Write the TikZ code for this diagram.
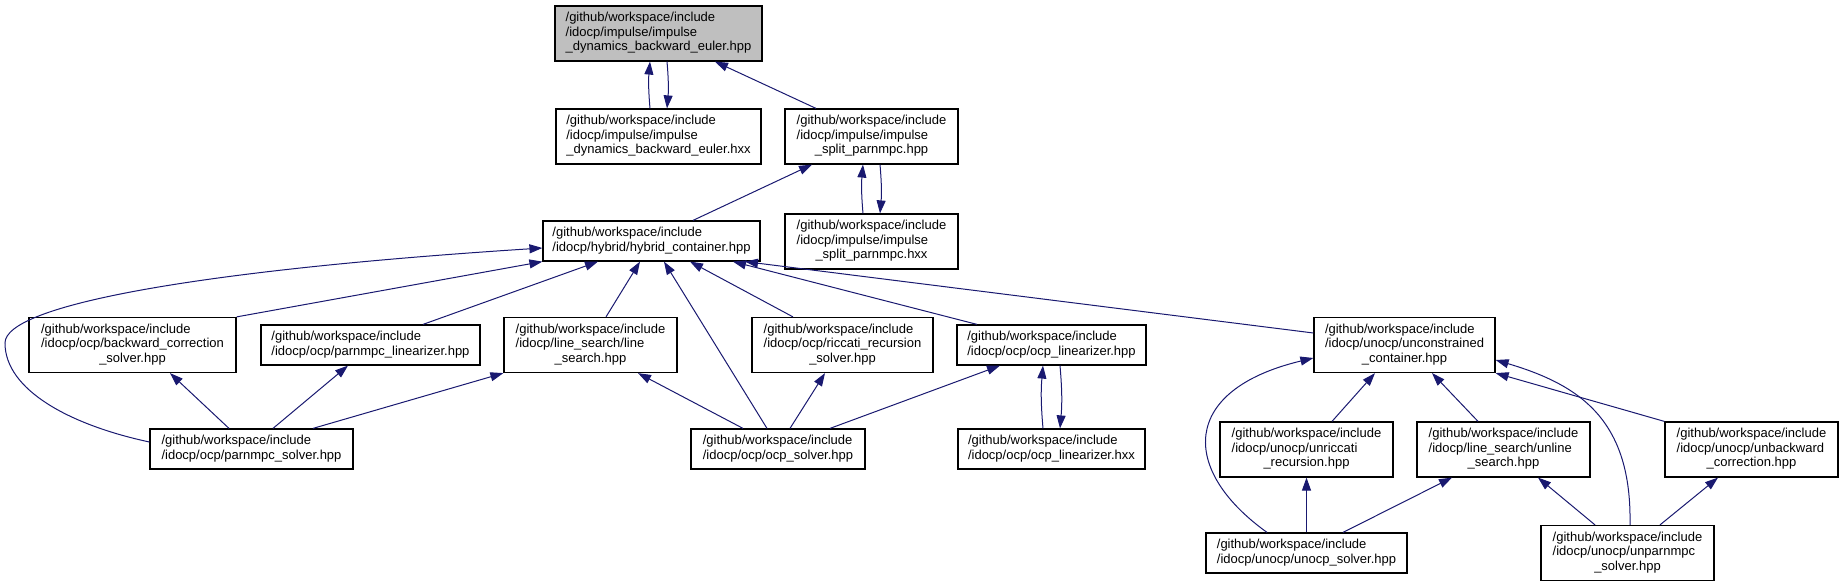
\documentclass[tikz,border=0pt]{standalone}
\usepackage{fontspec}
\setmainfont{Liberation Sans}
\usepackage{tikz}
\usetikzlibrary{arrows.meta}
\definecolor{edgeblue}{RGB}{25,25,112}
\definecolor{focusgray}{RGB}{191,191,191}
\newcommand{\twoline}[1]{\begin{tabular}{@{}l@{}}/github/workspace/include\\#1\end{tabular}}
\newcommand{\threeline}[2]{\begin{tabular}{@{}l@{}}/github/workspace/include\\#1\\\multicolumn{1}{@{}c@{}}{#2}\end{tabular}}

\begin{document}
\begin{tikzpicture}[
  x=0.5pt,y=-0.5pt,
  font=\fontsize{6.5}{7.25}\selectfont,
  >={Triangle[length=6.5pt,width=4.5pt]},
  box2/.style={draw=black,fill=white,line width=0.6pt,inner xsep=2pt,inner ysep=1pt,
    minimum height=20pt},
  box3/.style={box2,minimum height=27.5pt},
  focus/.style={fill=focusgray},
  link/.style={->,draw=edgeblue,line width=0.5pt}
]
\useasboundingbox (0,0) rectangle (1844,587);
\node[box3,focus,minimum width=103.5pt] (top) at (658.5,33.5) {\threeline{/idocp/impulse/impulse}{\_dynamics\_backward\_euler.hpp}};
\node[box3,minimum width=102.5pt] (idehxx) at (658.5,136.5) {\threeline{/idocp/impulse/impulse}{\_dynamics\_backward\_euler.hxx}};
\node[box3,minimum width=86.5pt] (isphpp) at (871.5,136.5) {\threeline{/idocp/impulse/impulse}{\_split\_parnmpc.hpp}};
\node[box3,minimum width=86.5pt] (isphxx) at (871.5,241.5) {\threeline{/idocp/impulse/impulse}{\_split\_parnmpc.hxx}};
\node[box2,minimum width=108.5pt] (hybrid) at (651.5,241) {\twoline{/idocp/hybrid/hybrid\_container.hpp}};
\node[box3,minimum width=103.5pt] (bcs) at (132.5,345) {\threeline{/idocp/ocp/backward\_correction}{\_solver.hpp}};
\node[box2,minimum width=109.5pt] (pml) at (370.5,345) {\twoline{/idocp/ocp/parnmpc\_linearizer.hpp}};
\node[box3,minimum width=86.5pt] (ls) at (590.5,345) {\threeline{/idocp/line\_search/line}{\_search.hpp}};
\node[box3,minimum width=90.5pt] (rrs) at (842.5,345) {\threeline{/idocp/ocp/riccati\_recursion}{\_solver.hpp}};
\node[box2,minimum width=94.5pt] (olhpp) at (1051.5,345) {\twoline{/idocp/ocp/ocp\_linearizer.hpp}};
\node[box3,minimum width=90.5pt] (ucc) at (1404.5,345) {\threeline{/idocp/unocp/unconstrained}{\_container.hpp}};
\node[box2,minimum width=101.5pt] (pms) at (251.5,449) {\twoline{/idocp/ocp/parnmpc\_solver.hpp}};
\node[box2,minimum width=87pt] (ocs) at (778,449) {\twoline{/idocp/ocp/ocp\_solver.hpp}};
\node[box2,minimum width=93.5pt] (olhxx) at (1051.5,449) {\twoline{/idocp/ocp/ocp\_linearizer.hxx}};
\node[box3,minimum width=86.5pt] (urr) at (1306.5,449.5) {\threeline{/idocp/unocp/unriccati}{\_recursion.hpp}};
\node[box3,minimum width=86.5pt] (uls) at (1503.5,449.5) {\threeline{/idocp/line\_search/unline}{\_search.hpp}};
\node[box3,minimum width=86.5pt] (ubc) at (1751.5,449.5) {\threeline{/idocp/unocp/unbackward}{\_correction.hpp}};
\node[box2,minimum width=100.5pt] (uos) at (1306.5,553) {\twoline{/idocp/unocp/unocp\_solver.hpp}};
\node[box3,minimum width=86.5pt] (ups) at (1627.5,553) {\threeline{/idocp/unocp/unparnmpc}{\_solver.hpp}};
\draw[link] ([xshift=-4.25pt]idehxx.north) to[bend left=5] ([xshift=-4.25pt]top.south);
\draw[link] ([xshift=4.25pt]top.south) to[bend left=5] ([xshift=4.25pt]idehxx.north);
\draw[link] ([xshift=-27.75pt]isphpp.north) -- ([xshift=28.25pt]top.south);
\draw[link] ([xshift=20.75pt]hybrid.north) -- ([xshift=-29.75pt]isphpp.south);
\draw[link] ([xshift=-4.25pt]isphxx.north) to[bend left=5] ([xshift=-4.25pt]isphpp.south);
\draw[link] ([xshift=4.25pt]isphpp.south) to[bend left=5] ([xshift=4.25pt]isphxx.north);
\draw[link] (bcs.north east) -- (hybrid.south west);
\draw[link] ([yshift=3.5pt]pms.west) .. controls (70,425) and (5,390) .. (5,343)
  .. controls (5,305) and (200,270) .. ([yshift=-3.5pt]hybrid.west);
\draw[link] ([xshift=26.25pt]pml.north) -- ([xshift=-26.75pt]hybrid.south);
\draw[link] ([xshift=7.75pt]ls.north) -- ([xshift=-5.75pt]hybrid.south);
\draw[link] ([xshift=-5.5pt]ocs.north) -- ([xshift=6.25pt]hybrid.south);
\draw[link] ([xshift=-24.75pt]rrs.north) -- ([xshift=19.25pt]hybrid.south);
\draw[link] ([xshift=-37.25pt]olhpp.north) -- ([xshift=40.75pt]hybrid.south);
\draw[link] ([yshift=6pt]ucc.west) -- ([xshift=46.75pt]hybrid.south);
\draw[link] ([xshift=-11.25pt]pms.north) -- ([xshift=18.75pt]bcs.south);
\draw[link] ([xshift=10.75pt]pms.north) -- ([xshift=-11.25pt]pml.south);
\draw[link] ([xshift=30.75pt]pms.north) -- (ls.south west);
\draw[link] ([xshift=-17.5pt]ocs.north) -- ([xshift=23.75pt]ls.south);
\draw[link] ([xshift=6pt]ocs.north) -- ([xshift=-8.75pt]rrs.south);
\draw[link] ([xshift=26pt]ocs.north) -- ([xshift=-25.75pt]olhpp.south);
\draw[link] ([xshift=-4.25pt]olhxx.north) to[bend left=5] ([xshift=-4.25pt]olhpp.south);
\draw[link] ([xshift=4.25pt]olhpp.south) to[bend left=5] ([xshift=4.25pt]olhxx.north);
\draw[link] ([xshift=-19.75pt]uos.north) .. controls (1180,470) and (1180,390) .. ([yshift=-6.5pt]ucc.west);
\draw[link] ([xshift=12.75pt]urr.north) -- ([xshift=-14.75pt]ucc.south);
\draw[link] ([xshift=-12.75pt]uls.north) -- ([xshift=13.75pt]ucc.south);
\draw[link] (ubc.north west) -- (ucc.south east);
\draw[link] ([xshift=1.25pt]ups.north) .. controls (1632,420) and (1580,385) .. ([yshift=-7.5pt]ucc.east);
\draw[link] (uos.north) -- (urr.south);
\draw[link] ([xshift=18.25pt]uos.north) -- ([xshift=-25.75pt]uls.south);
\draw[link] ([xshift=-16.25pt]ups.north) -- ([xshift=17.25pt]uls.south);
\draw[link] ([xshift=16.25pt]ups.north) -- ([xshift=-16.75pt]ubc.south);
\end{tikzpicture}
\end{document}
